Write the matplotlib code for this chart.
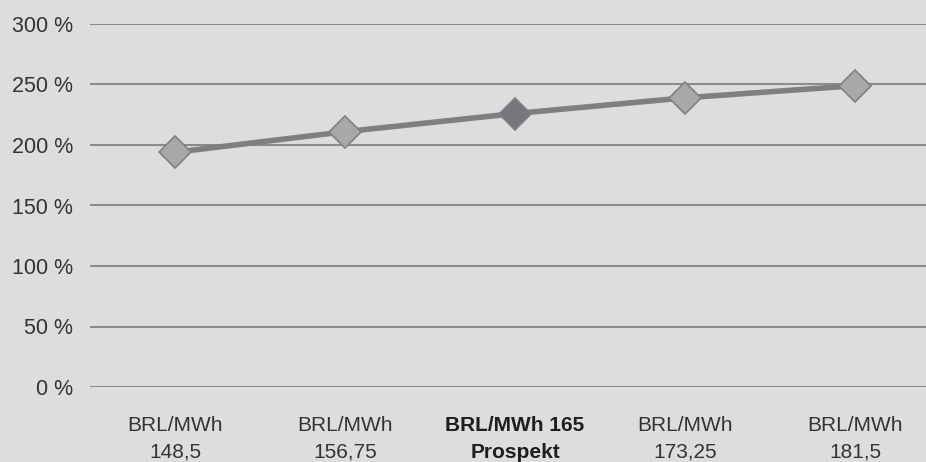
import matplotlib
matplotlib.use("Agg")
import matplotlib.pyplot as plt

categories = ["BRL/MWh\n148,5", "BRL/MWh\n156,75", "BRL/MWh 165\nProspekt", "BRL/MWh\n173,25", "BRL/MWh\n181,5"]
values = [194, 211, 226, 239, 249]
highlight = 2
yticks = [0, 50, 100, 150, 200, 250, 300]
ytick_labels = ["0 %", "50 %", "100 %", "150 %", "200 %", "250 %", "300 %"]

bg = "#dcdddf"
plt.rcParams['font.family'] = ['Liberation Sans', 'DejaVu Sans']

fig = plt.figure(figsize=(9.26, 4.62), dpi=100)
fig.patch.set_facecolor(bg)
ax = fig.add_axes([90/926, 75/462, 850/926, 363/462])
ax.set_facecolor(bg)

x = list(range(len(values)))
ax.plot(x, values, color="#7f7f81", lw=4, zorder=3)
for i, v in enumerate(values):
    fc = "#76777a" if i == highlight else "#a7a8aa"
    ax.plot([i], [v], marker="D", ms=16, mfc=fc, mec="#808183", mew=1.2, zorder=4, ls="none")

ax.set_xlim(-0.5, len(values) - 0.5)
ax.set_ylim(0, 300)
ax.set_yticks(yticks)
ax.set_yticklabels(ytick_labels, fontsize=15.5, color="#333333")
ax.yaxis.grid(True, color="#8c8c8e", lw=1.5)
ax.set_axisbelow(True)
ax.set_xticks(x)
ax.set_xticklabels(categories, fontsize=15, color="#333333", linespacing=1.5)
for i, lab in enumerate(ax.get_xticklabels()):
    if i == highlight:
        lab.set_fontweight("bold")
        lab.set_color("#1e1e1e")
ax.tick_params(axis="both", length=0)
ax.tick_params(axis="y", pad=12)
ax.tick_params(axis="x", pad=21)
for s in ax.spines.values():
    s.set_visible(False)

fig.savefig("out.png", dpi=100, facecolor=bg)
